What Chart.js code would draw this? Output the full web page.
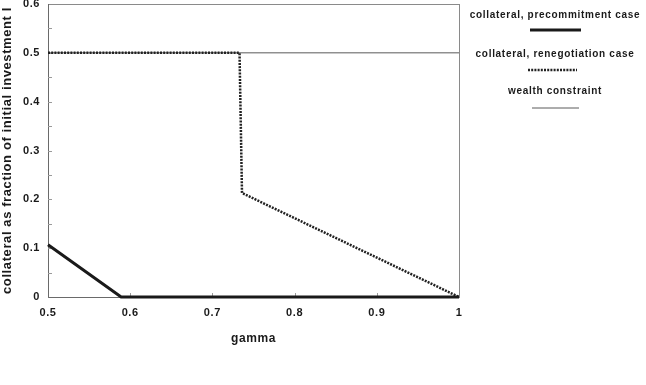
<!DOCTYPE html>
<html>
<head>
<meta charset="utf-8">
<script src="https://cdn.jsdelivr.net/npm/chart.js@4"></script>
<style>
  html, body { margin: 0; padding: 0; background: #fff; }
  #wrap { position: relative; width: 646px; height: 385px; }
</style>
</head>
<body>
<div id="wrap"><canvas id="myChart" width="646" height="385"></canvas></div>
<script>
// series
const seriesNames = ['collateral, precommitment case', 'collateral, renegotiation case', 'wealth constraint'];
const precommitGamma = [0.5, 0.589, 1];
const precommitCollateral = [0.107, 0, 0];
const renegGamma = [0.5, 0.733, 0.736, 1];
const renegCollateral = [0.5, 0.5, 0.213, 0];
const wealthGamma = [0.5, 1];
const wealthCollateral = [0.5, 0.5];

const xTickValues = [0.5, 0.6, 0.7, 0.8, 0.9, 1];
const xTickLabels = ['0.5', '0.6', '0.7', '0.8', '0.9', '1'];
const yTickValues = [0, 0.1, 0.2, 0.3, 0.4, 0.5, 0.6];
const yTickLabels = ['0', '0.1', '0.2', '0.3', '0.4', '0.5', '0.6'];

const ink = '#1a1a1a';
const boldFont = 'Liberation Sans, Arial, sans-serif';

const toPoints = (xs, ys) => xs.map((x, i) => ({ x: x, y: ys[i] }));

const styles = [
  { borderColor: '#1a1a1a', borderWidth: 3, borderDash: [] },
  { borderColor: '#222222', borderWidth: 2.5, borderDash: [2, 1.2] },
  { borderColor: '#5a5a5a', borderWidth: 1, borderDash: [] }
];

// frame, inside tick marks and the stacked legend at the right
const framePlugin = {
  id: 'frame',
  beforeDraw(chart) {
    chart.ctx.letterSpacing = '0.6px';
  },
  beforeDatasetsDraw(chart) {
    const { ctx, chartArea: a, scales } = chart;
    ctx.save();
    ctx.lineWidth = 1;
    ctx.strokeStyle = '#8a8a8a';
    ctx.strokeRect(a.left + 0.5, a.top + 0.5, a.right - a.left, a.bottom - a.top);
    ctx.strokeStyle = '#6a6a6a';
    ctx.beginPath();
    ctx.moveTo(a.left + 0.5, a.top);
    ctx.lineTo(a.left + 0.5, a.bottom + 0.5);
    ctx.lineTo(a.right, a.bottom + 0.5);
    ctx.stroke();
    ctx.strokeStyle = '#9a9a9a';
    ctx.beginPath();
    xTickValues.slice(1, -1).forEach(v => {
      const px = Math.round(scales.x.getPixelForValue(v)) + 0.5;
      ctx.moveTo(px, a.bottom);
      ctx.lineTo(px, a.bottom - 4);
    });
    for (let i = 0; i < yTickValues.length - 1; i++) {
      [yTickValues[i], (yTickValues[i] + yTickValues[i + 1]) / 2].forEach(v => {
        if (v === 0) return;
        const py = Math.round(scales.y.getPixelForValue(v)) + 0.5;
        ctx.moveTo(a.left, py);
        ctx.lineTo(a.left + 4, py);
      });
    }
    ctx.stroke();
    ctx.restore();
  },
  afterDraw(chart) {
    const ctx = chart.ctx;
    const cx = 555;
    const rows = [
      { textY: 15, lineY: 30, x0: 530, x1: 581 },
      { textY: 54, lineY: 70, x0: 528, x1: 577 },
      { textY: 91, lineY: 108, x0: 532, x1: 579 }
    ];
    ctx.save();
    ctx.letterSpacing = '0.7px';
    ctx.font = 'bold 10px ' + boldFont;
    ctx.fillStyle = ink;
    ctx.textAlign = 'center';
    ctx.textBaseline = 'middle';
    rows.forEach((r, i) => {
      ctx.fillText(seriesNames[i], cx, r.textY);
      const st = styles[i];
      ctx.strokeStyle = st.borderColor;
      ctx.lineWidth = st.borderWidth;
      ctx.setLineDash(st.borderDash);
      ctx.beginPath();
      ctx.moveTo(r.x0, r.lineY);
      ctx.lineTo(r.x1, r.lineY);
      ctx.stroke();
    });
    ctx.restore();
  }
};

const noPad = (scale) => {
  scale.paddingTop = 0;
  scale.paddingBottom = 0;
  scale.paddingLeft = 0;
  scale.paddingRight = 0;
};

const ctx = document.getElementById('myChart');
const myLineChart = new Chart(ctx, {
  type: 'line',
  data: {
    datasets: [
      Object.assign({ label: seriesNames[0], data: toPoints(precommitGamma, precommitCollateral), order: 1 }, styles[0]),
      Object.assign({ label: seriesNames[1], data: toPoints(renegGamma, renegCollateral), order: 2 }, styles[1]),
      Object.assign({ label: seriesNames[2], data: toPoints(wealthGamma, wealthCollateral), order: 3 }, styles[2])
    ]
  },
  options: {
    responsive: false,
    animation: false,
    layout: { padding: { top: 4, right: 187, bottom: 0, left: 0 } },
    elements: {
      point: { radius: 0 },
      line: { tension: 0, fill: false, borderCapStyle: 'butt', borderJoinStyle: 'miter' }
    },
    datasets: { line: { clip: false } },
    plugins: { legend: { display: false }, tooltip: { enabled: false } },
    scales: {
      x: {
        type: 'linear',
        min: 0.5,
        max: 1,
        grid: { display: false, drawTicks: false },
        border: { display: false },
        afterBuildTicks: (s) => { s.ticks = xTickValues.map(v => ({ value: v })); },
        afterFit: (s) => { s.height = 88; noPad(s); },
        ticks: {
          padding: 9,
          maxRotation: 0,
          autoSkip: false,
          color: ink,
          font: { family: boldFont, size: 11, weight: 'bold' },
          callback: (v) => xTickLabels[xTickValues.indexOf(v)]
        },
        title: {
          display: true,
          text: 'gamma',
          color: ink,
          font: { family: boldFont, size: 12, weight: 'bold' },
          padding: { top: 0, bottom: 39 }
        }
      },
      y: {
        min: 0,
        max: 0.6,
        grid: { display: false, drawTicks: false },
        border: { display: false },
        afterBuildTicks: (s) => { s.ticks = yTickValues.map(v => ({ value: v })); },
        afterFit: (s) => { s.width = 48; noPad(s); },
        ticks: {
          padding: 8,
          autoSkip: false,
          color: ink,
          font: { family: boldFont, size: 11, weight: 'bold' },
          callback: (v) => yTickLabels[yTickValues.indexOf(v)]
        },
        title: {
          display: true,
          text: 'collateral as fraction of initial investment I',
          color: ink,
          font: { family: boldFont, size: 13, weight: 'bold' },
          padding: { top: 0, bottom: 0 }
        }
      }
    }
  },
  plugins: [framePlugin]
});
</script>
</body>
</html>
